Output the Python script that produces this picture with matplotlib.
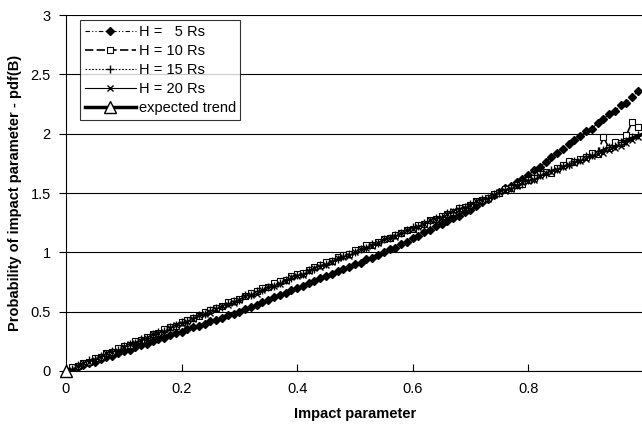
import numpy as np
import matplotlib.pyplot as plt

plt.rcParams["font.family"] = ["Liberation Sans", "DejaVu Sans"]

# impact parameter grid (0.00 ... 0.99)
B = np.round(np.arange(100) * 0.01, 2)

h5 = [0.00, 0.02, 0.03, 0.05, 0.07, 0.08, 0.10, 0.12, 0.13, 0.15,
      0.17, 0.18, 0.20, 0.22, 0.23, 0.25, 0.27, 0.28, 0.30, 0.32,
      0.33, 0.35, 0.37, 0.38, 0.40, 0.42, 0.43, 0.45, 0.47, 0.48,
      0.50, 0.52, 0.54, 0.56, 0.58, 0.60, 0.62, 0.64, 0.66, 0.68,
      0.70, 0.72, 0.74, 0.76, 0.78, 0.80, 0.82, 0.84, 0.86, 0.88,
      0.90, 0.91, 0.94, 0.95, 0.98, 1.00, 1.03, 1.04, 1.07, 1.09,
      1.12, 1.14, 1.17, 1.19, 1.22, 1.24, 1.26, 1.29, 1.31, 1.34,
      1.36, 1.39, 1.42, 1.45, 1.48, 1.51, 1.54, 1.56, 1.59, 1.62,
      1.65, 1.69, 1.72, 1.76, 1.80, 1.84, 1.87, 1.91, 1.95, 1.98,
      2.02, 2.04, 2.09, 2.12, 2.17, 2.19, 2.24, 2.26, 2.31, 2.36]
h10 = [0.00, 0.03, 0.04, 0.07, 0.08, 0.11, 0.12, 0.15, 0.16, 0.19,
       0.21, 0.22, 0.25, 0.26, 0.29, 0.31, 0.32, 0.35, 0.37, 0.38,
       0.41, 0.43, 0.45, 0.46, 0.50, 0.51, 0.53, 0.55, 0.58, 0.59,
       0.61, 0.63, 0.66, 0.67, 0.70, 0.71, 0.74, 0.76, 0.77, 0.80,
       0.82, 0.83, 0.85, 0.88, 0.89, 0.92, 0.93, 0.96, 0.98, 0.99,
       1.02, 1.03, 1.06, 1.06, 1.09, 1.11, 1.12, 1.15, 1.16, 1.19,
       1.20, 1.23, 1.24, 1.27, 1.28, 1.31, 1.32, 1.34, 1.37, 1.38,
       1.40, 1.43, 1.44, 1.46, 1.49, 1.50, 1.53, 1.54, 1.57, 1.58,
       1.61, 1.63, 1.66, 1.68, 1.67, 1.71, 1.74, 1.77, 1.76, 1.79,
       1.80, 1.84, 1.83, 1.97, 1.88, 1.93, 1.92, 1.99, 2.10, 2.06]
h15 = [0.00, 0.02, 0.05, 0.06, 0.09, 0.10, 0.13, 0.14, 0.17, 0.18,
       0.21, 0.23, 0.24, 0.27, 0.28, 0.31, 0.33, 0.34, 0.37, 0.39,
       0.41, 0.42, 0.45, 0.47, 0.48, 0.51, 0.53, 0.54, 0.57, 0.59,
       0.60, 0.64, 0.64, 0.67, 0.68, 0.71, 0.72, 0.74, 0.77, 0.78,
       0.81, 0.82, 0.85, 0.86, 0.89, 0.90, 0.93, 0.94, 0.97, 0.99,
       1.00, 1.03, 1.04, 1.07, 1.08, 1.11, 1.12, 1.15, 1.16, 1.19,
       1.21, 1.22, 1.25, 1.26, 1.29, 1.30, 1.33, 1.34, 1.37, 1.38,
       1.41, 1.42, 1.45, 1.46, 1.49, 1.50, 1.53, 1.54, 1.57, 1.58,
       1.61, 1.62, 1.65, 1.66, 1.69, 1.70, 1.73, 1.74, 1.77, 1.78,
       1.81, 1.82, 1.85, 1.86, 1.89, 1.90, 1.93, 1.94, 1.97, 1.99]
h20 = [0.00, 0.01, 0.04, 0.07, 0.08, 0.09, 0.12, 0.15, 0.16, 0.17,
       0.20, 0.23, 0.24, 0.25, 0.28, 0.31, 0.32, 0.33, 0.36, 0.39,
       0.40, 0.41, 0.44, 0.47, 0.48, 0.49, 0.52, 0.55, 0.56, 0.57,
       0.60, 0.63, 0.64, 0.65, 0.68, 0.71, 0.72, 0.73, 0.76, 0.79,
       0.80, 0.81, 0.84, 0.87, 0.88, 0.89, 0.92, 0.95, 0.96, 0.97,
       1.00, 1.03, 1.04, 1.05, 1.08, 1.11, 1.12, 1.13, 1.16, 1.19,
       1.20, 1.21, 1.24, 1.27, 1.28, 1.29, 1.32, 1.35, 1.36, 1.37,
       1.40, 1.43, 1.44, 1.45, 1.48, 1.51, 1.52, 1.53, 1.56, 1.59,
       1.60, 1.61, 1.64, 1.67, 1.68, 1.69, 1.72, 1.74, 1.75, 1.77,
       1.79, 1.81, 1.83, 1.84, 1.86, 1.88, 1.90, 1.92, 1.95, 1.97]

trend_b = [0.0, 1.0]
trend = [0.0, 2.0]

fig = plt.figure(figsize=(6.42, 4.24), dpi=100)
ax = fig.add_axes([0.1028, 0.125, 0.9, 0.8396])

ax.plot(trend_b, trend, "k-", lw=2.5, marker="^", ms=8, mfc="white",
        markevery=[0], label="expected trend", zorder=1)
ax.plot(B, h5, color="k", ls=(0, (4, 2, 1, 2, 1, 2)), lw=0.8, marker="D",
        ms=4, label="H =   5 Rs", zorder=3)
ax.plot(B, h10, color="k", ls=(0, (5, 2)), lw=1.2, marker="s", ms=4.5,
        mfc="white", mew=0.8, label="H = 10 Rs", zorder=3)
ax.plot(B, h15, color="k", ls=(0, (1.5, 1.5)), lw=0.8, marker="+", ms=6,
        mew=1.0, label="H = 15 Rs", zorder=3)
ax.plot(B, h20, color="k", ls="-", lw=0.8, marker="x", ms=4.5, mew=1.0,
        label="H = 20 Rs", zorder=3)
# triangle of the expected trend at the origin on top
ax.plot(trend_b[:1], trend[:1], "k^", ms=8, mfc="white", zorder=10,
        clip_on=False)

ax.set_xlim(0, 1.0)
ax.set_ylim(0, 3)
ax.set_xticks([0, 0.2, 0.4, 0.6, 0.8])
ax.set_xticklabels(["0", "0.2", "0.4", "0.6", "0.8"])
ax.set_yticks([0, 0.5, 1, 1.5, 2, 2.5, 3])
ax.set_yticklabels(["0", "0.5", "1", "1.5", "2", "2.5", "3"])
ax.tick_params(axis="y", direction="out", length=5, labelsize=10.5, pad=6)
ax.tick_params(axis="x", direction="in", length=5, labelsize=10.5, pad=8)
ax.grid(axis="y", color="k", lw=0.8)
ax.set_axisbelow(True)
for s in ["top", "right"]:
    ax.spines[s].set_visible(False)

ax.set_xlabel("Impact parameter", fontsize=10.5, fontweight="bold", labelpad=8)
ax.set_ylabel("Probability of impact parameter - pdf(B)", fontsize=10.5,
              fontweight="bold", labelpad=6)

handles, labels = ax.get_legend_handles_labels()
order = [1, 2, 3, 4, 0]
leg = ax.legend([handles[i] for i in order], [labels[i] for i in order],
                loc="upper left", bbox_to_anchor=(0.025, 0.985), fontsize=10.5,
                frameon=True, fancybox=False, edgecolor="k", handlelength=3.5,
                handletextpad=0.2, borderpad=0.3, labelspacing=0.35,
                borderaxespad=0)
leg.get_frame().set_linewidth(0.8)

fig.savefig("out.png", dpi=100)
